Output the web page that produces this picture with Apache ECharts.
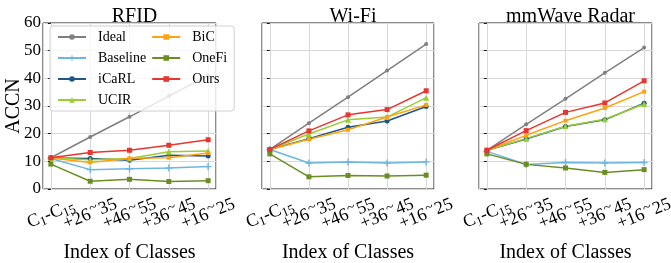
<!DOCTYPE html>
<html>
<head>
<meta charset="utf-8">
<script src="https://cdn.jsdelivr.net/npm/echarts@6/dist/echarts.min.js"></script>
<style>
  html, body { margin: 0; padding: 0; background: #fff; }
  #chart { width: 671px; height: 263px; }
</style>
</head>
<body>
<div id="chart"></div>
<script>
// ── Data ─────────────────────────────────────────────────────

const categories = ['C1-C15', '+26~35', '+46~55', '+36~45', '+16~25'];
const methods    = ['Ideal', 'Baseline', 'iCaRL', 'UCIR', 'BiC', 'OneFi', 'Ours'];
const panelNames = ['RFID', 'Wi-Fi', 'mmWave Radar'];

// rows follow `methods`
const rfidValues = [
  [11.3, 18.8, 26.1, 33.6, 41.0],
  [11.0,  7.0,  7.3,  7.6,  8.1],
  [11.2, 11.0, 10.4, 12.2, 11.9],
  [11.2, 10.6, 11.0, 13.5, 13.7],
  [11.2,  9.6, 11.1, 11.3, 13.0],
  [ 9.0,  2.8,  3.5,  2.7,  3.0],
  [11.3, 13.2, 14.0, 15.8, 17.8],
];
const wifiValues = [
  [14.3, 23.8, 33.2, 42.8, 52.4],
  [14.3,  9.4,  9.8,  9.4,  9.8],
  [14.3, 18.2, 22.3, 24.6, 29.8],
  [14.3, 19.9, 25.0, 26.0, 33.0],
  [14.3, 18.0, 21.4, 26.0, 30.4],
  [12.7,  4.4,  4.9,  4.7,  5.0],
  [14.3, 21.0, 26.8, 28.7, 35.5],
];
const radarValues = [
  [14.0, 23.4, 32.6, 42.0, 51.1],
  [13.6,  8.9,  9.6,  9.4,  9.6],
  [14.0, 18.1, 22.6, 25.0, 31.0],
  [14.0, 18.2, 22.7, 25.2, 30.7],
  [14.0, 19.4, 24.7, 29.3, 35.2],
  [12.7,  8.9,  7.6,  6.0,  7.0],
  [14.0, 21.1, 27.7, 31.1, 39.1],
];
const panelValues = [rfidValues, wifiValues, radarValues];

// ── Styles ───────────────────────────────────────────────────

const FONT = '"Liberation Serif", "Times New Roman", serif';
const PLUS = 'path://M4,0 L6,0 L6,4 L10,4 L10,6 L6,6 L6,10 L4,10 L4,6 L0,6 L0,4 L4,4 Z';

const methodStyle = {
  Ideal:    { color: '#808080', symbol: 'circle',   size: 4 },
  Baseline: { color: '#6db6de', symbol: PLUS,       size: 7 },
  iCaRL:    { color: '#1d5687', symbol: 'circle',   size: 5 },
  UCIR:     { color: '#9acd32', symbol: 'triangle', size: 6 },
  BiC:      { color: '#ffa20f', symbol: 'rect',     size: 4 },
  OneFi:    { color: '#6b8e23', symbol: 'rect',     size: 5 },
  Ours:     { color: '#e8352f', symbol: 'rect',     size: 5 },
};

// plot frames (px)
const frames = [
  { left: 43,  width: 173 },
  { left: 262, width: 172 },
  { left: 479, width: 173 },
];
const TOP = 23, HEIGHT = 166;

const labelRich = {
  m: { fontFamily: FONT, fontSize: 18, color: '#000' },
  s: { fontFamily: FONT, fontSize: 13, color: '#000', padding: [9, 0, 0, 0] },
  t: { fontFamily: FONT, fontSize: 15, color: '#000', padding: [0, 1, 9, 1] },
};

// tick value -> rich label (subscripts for C1-C15, raised tilde)
function xLabel(v) {
  const i = Math.round(v);
  if (Math.abs(v - i) > 1e-6 || i < 0 || i >= categories.length) return '';
  const c = categories[i];
  if (c === 'C1-C15') return '{m|C}{s|1}{m|-C}{s|15}';
  const [a, b] = c.split('~');
  return '{m|' + a + '}{t|~}{m|' + b + '}';
}

// ── Option ───────────────────────────────────────────────────

const grids = [], xAxes = [], yAxes = [], titles = [], series = [];

frames.forEach((f, p) => {
  grids.push({
    left: f.left, top: TOP, width: f.width, height: HEIGHT,
    outerBoundsMode: 'none', containLabel: false,
    show: true, borderColor: '#1a1a1a', borderWidth: 1,
    backgroundColor: 'transparent',
  });

  titles.push({
    text: panelNames[p],
    left: f.left + f.width / 2, top: 2, textAlign: 'center',
    textStyle: { fontFamily: FONT, fontSize: 20, fontWeight: 'normal', color: '#000' },
  });

  xAxes.push({
    type: 'value', gridIndex: p, min: -0.2, max: 4.2,
    axisLine:  { show: false },
    axisTick:  { show: false },
    splitLine: { show: true, lineStyle: { color: '#d8d8d8', width: 1 } },
    axisLabel: {
      rotate: 22, align: 'center', verticalAlign: 'middle', margin: 25,
      formatter: xLabel, rich: labelRich,
      fontFamily: FONT, fontSize: 18, color: '#000',
    },
    name: 'Index of Classes', nameLocation: 'middle', nameGap: 54,
    nameMoveOverlap: false,
    nameTextStyle: { fontFamily: FONT, fontSize: 20, color: '#000' },
  });

  yAxes.push({
    type: 'value', gridIndex: p, min: 0, max: 60, interval: 10,
    axisLine:  { show: false },
    axisTick:  { show: true, length: 3, lineStyle: { color: '#1a1a1a' } },
    splitLine: { show: true, lineStyle: { color: '#d8d8d8', width: 1 } },
    axisLabel: { show: p === 0, margin: 2, fontFamily: FONT, fontSize: 17, color: '#000' },
    name: p === 0 ? 'ACCN' : '', nameLocation: 'middle', nameGap: 19,
    nameMoveOverlap: false,
    nameTextStyle: { fontFamily: FONT, fontSize: 20, color: '#000' },
  });

  methods.forEach((m, k) => {
    const st = methodStyle[m];
    series.push({
      type: 'line', name: m, xAxisIndex: p, yAxisIndex: p,
      data: panelValues[p][k].map((v, i) => [i, v]),
      symbol: st.symbol, symbolSize: st.size, showSymbol: true,
      lineStyle: { color: st.color, width: 1.5 },
      itemStyle: { color: st.color },
      emphasis: { disabled: true },
      animation: false,
    });
  });
});

const chart = echarts.init(document.getElementById('chart'), null, { renderer: 'canvas' });

chart.setOption({
  backgroundColor: '#fff',
  animation: false,
  title: titles,
  grid: grids,
  xAxis: xAxes,
  yAxis: yAxes,
  legend: {
    data: methods,
    orient: 'vertical',
    left: 50, top: 26, height: 82,
    itemGap: 5, itemWidth: 28, itemHeight: 7,
    padding: [3, 7, 3, 7],
    backgroundColor: 'rgba(255,255,255,0.8)',
    borderColor: '#d0d0d0', borderWidth: 1, borderRadius: 3,
    textStyle: { fontFamily: FONT, fontSize: 14, color: '#000', lineHeight: 16, padding: [0, 0, 0, 7] },
    selectedMode: false,
  },
  series,
});
</script>
</body>
</html>
